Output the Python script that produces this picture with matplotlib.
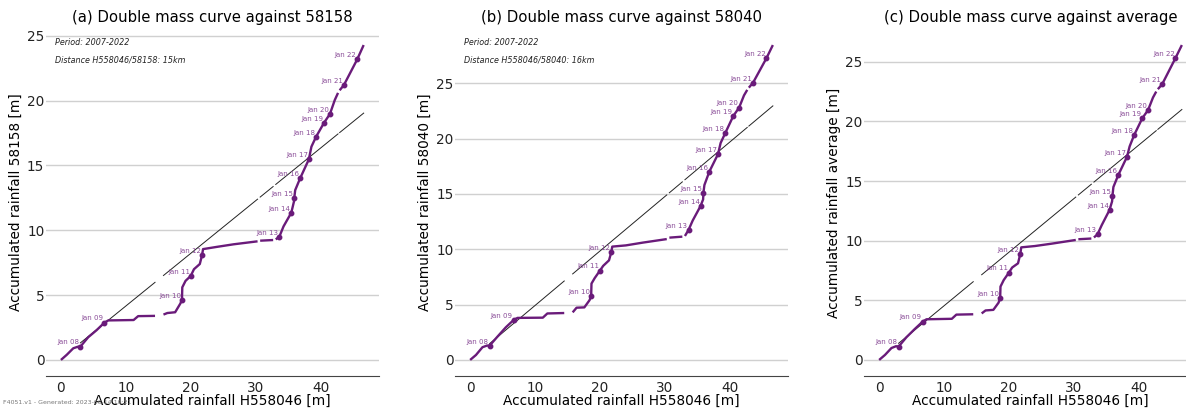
"""Double mass curves for gauge H558046 against neighbouring stations."""

import numpy as np
import matplotlib
matplotlib.use("Agg")
import matplotlib.pyplot as plt

nan = np.nan

# accumulated rainfall at H558046 [m]; nan marks a break in the record
x_h558046 = [
    0.0, 0.9, 1.9, 2.6, 3.0, 4.2, 5.5, 6.7, 7.3, 11.2, 11.9, 14.5, nan,
    15.8, 16.4, 17.6, 18.4, 18.65, 18.7, 19.2, 20.0, 20.5, 21.4, 21.75, 21.9,
    24.0, 26.6, 30.3, nan, 30.7, 32.7, nan, 33.1, 33.65, 34.3, 35.5, 35.9,
    35.95, 36.1, 36.85, 38.2, 38.6, 39.3, 40.55, 41.45, 42.2, 42.7, nan,
    42.95, 43.6, 45.65, 46.65,
]

# accumulated rainfall at the reference series [m]
y_58158 = [
    0.0, 0.4, 0.9, 1.02, 1.03, 1.75, 2.3, 2.88, 3.05, 3.08, 3.38, 3.4, nan,
    3.5, 3.62, 3.68, 4.35, 4.63, 5.6, 6.1, 6.48, 7.0, 7.4, 8.1, 8.55,
    8.72, 8.92, 9.15, nan, 9.2, 9.25, nan, 9.3, 9.5, 10.3, 11.36, 12.2,
    12.47, 13.1, 14.0, 15.47, 16.45, 17.2, 18.3, 18.97, 20.05, 20.6, nan,
    20.8, 21.2, 23.18, 24.29,
]
y_58040 = [
    0.0, 0.45, 1.15, 1.3, 1.29, 2.1, 2.95, 3.61, 3.8, 3.82, 4.2, 4.24, nan,
    4.3, 4.72, 4.75, 5.4, 5.78, 6.9, 7.4, 8.07, 8.5, 9.0, 9.73, 10.24,
    10.35, 10.6, 10.92, nan, 11.05, 11.14, nan, 11.2, 11.74, 12.6, 13.9, 14.5,
    15.1, 15.8, 17.0, 18.6, 19.6, 20.48, 22.04, 22.8, 23.9, 24.4, nan,
    24.6, 25.05, 27.25, 28.45,
]
y_average = [
    0.0, 0.42, 1.0, 1.15, 1.12, 1.9, 2.6, 3.21, 3.41, 3.45, 3.8, 3.83, nan,
    3.9, 4.15, 4.2, 4.8, 5.17, 6.15, 6.7, 7.32, 7.75, 8.1, 8.88, 9.44,
    9.55, 9.75, 10.06, nan, 10.12, 10.18, nan, 10.27, 10.53, 11.3, 12.57, 13.3,
    13.75, 14.5, 15.5, 17.04, 17.9, 18.86, 20.26, 20.96, 22.0, 22.5, nan,
    22.7, 23.1, 25.29, 26.4,
]

# January markers
jan_labels = ["Jan 08", "Jan 09", "Jan 10", "Jan 11", "Jan 12", "Jan 13", "Jan 14",
              "Jan 15", "Jan 16", "Jan 17", "Jan 18", "Jan 19", "Jan 20", "Jan 21",
              "Jan 22"]
jan_x = [3.0, 6.7, 18.65, 20.0, 21.75, 33.65, 35.5, 35.95, 36.85, 38.2, 39.3,
         40.55, 41.45, 43.6, 45.65]
jan_y_58158 = [1.03, 2.88, 4.63, 6.48, 8.1, 9.5, 11.36, 12.47, 14.0, 15.47, 17.2,
               18.3, 18.97, 21.2, 23.18]
jan_y_58040 = [1.29, 3.61, 5.78, 8.07, 9.73, 11.74, 13.9, 15.1, 17.0, 18.6, 20.48,
               22.04, 22.8, 25.05, 27.25]
jan_y_average = [1.12, 3.21, 5.17, 7.32, 8.88, 10.53, 12.57, 13.75, 15.5, 17.04,
                 18.86, 20.26, 20.96, 23.1, 25.29]

# straight-line trend (slope, intercept) per comparison, drawn from Jan 08 on
trend_58158 = (0.406, 0.1)
trend_58040 = (0.492, 0.0)
trend_average = (0.449, 0.05)

titles = ["(a) Double mass curve against 58158",
          "(b) Double mass curve against 58040",
          "(c) Double mass curve against average"]
ylabels = ["Accumulated rainfall 58158 [m]",
           "Accumulated rainfall 58040 [m]",
           "Accumulated rainfall average [m]"]
notes = [["Period: 2007-2022", "Distance H558046/58158: 15km"],
         ["Period: 2007-2022", "Distance H558046/58040: 16km"],
         []]

PURPLE = "#6a1b7a"
LABEL_PURPLE = "#8a4d98"

fig = plt.figure(figsize=(11.86, 4.09), dpi=100)
W, H = 1186.0, 409.0
lefts = [45.8, 455.0, 864.0]

series = [
    (y_58158, jan_y_58158, trend_58158),
    (y_58040, jan_y_58040, trend_58040),
    (y_average, jan_y_average, trend_average),
]

x = np.array(x_h558046)
for i, (ys, jan_y, trend) in enumerate(series):
    ax = fig.add_axes([lefts[i] / W, 33.3 / H, 333 / W, 346.4 / H])
    y = np.array(ys)

    ax.plot(x, y, color=PURPLE, lw=1.7, solid_capstyle="butt", zorder=3)

    slope, intercept = trend
    xt = x[x_h558046.index(jan_x[0]):]
    ax.plot(xt, slope * xt + intercept, color="#222222", lw=0.7, zorder=2)

    ax.plot(jan_x, jan_y, "o", color=PURPLE, ms=3.2, zorder=4)
    for lab, jx, jy in zip(jan_labels, jan_x, jan_y):
        ax.annotate(lab, (jx, jy), xytext=(-0.5, 3), textcoords="offset points",
                    ha="right", va="center", fontsize=5, color=LABEL_PURPLE,
                    zorder=5)

    for k, note in enumerate(notes[i]):
        ax.text(0.028, 0.962 - k * 0.051, note, transform=ax.transAxes,
                fontsize=5.8, style="italic", color="#222222",
                ha="left", va="center")

    ax.set_title(titles[i], fontsize=10.7, pad=5)
    ax.set_xlabel("Accumulated rainfall H558046 [m]", fontsize=9.8, labelpad=-0.5)
    ax.set_ylabel(ylabels[i], fontsize=9.8, labelpad=3)

    ax.grid(axis="y", color="#d0d0d0", lw=1.0)
    ax.set_axisbelow(True)
    for side in ("left", "right", "top"):
        ax.spines[side].set_visible(False)
    ax.spines["bottom"].set_color("#444444")
    ax.tick_params(axis="both", length=0, labelsize=9.8, colors="#222222")
    ax.tick_params(axis="x", pad=3.5)
    ax.tick_params(axis="y", pad=1)
    ax.set_xticks([0, 10, 20, 30, 40])

fig.text(3 / W, 1 - 402 / H, "F4051.v1 - Generated: 2023-06-14 10:21",
         fontsize=4.5, color="#777777", ha="left", va="center", zorder=0)

fig.savefig("out.png", dpi=100)
